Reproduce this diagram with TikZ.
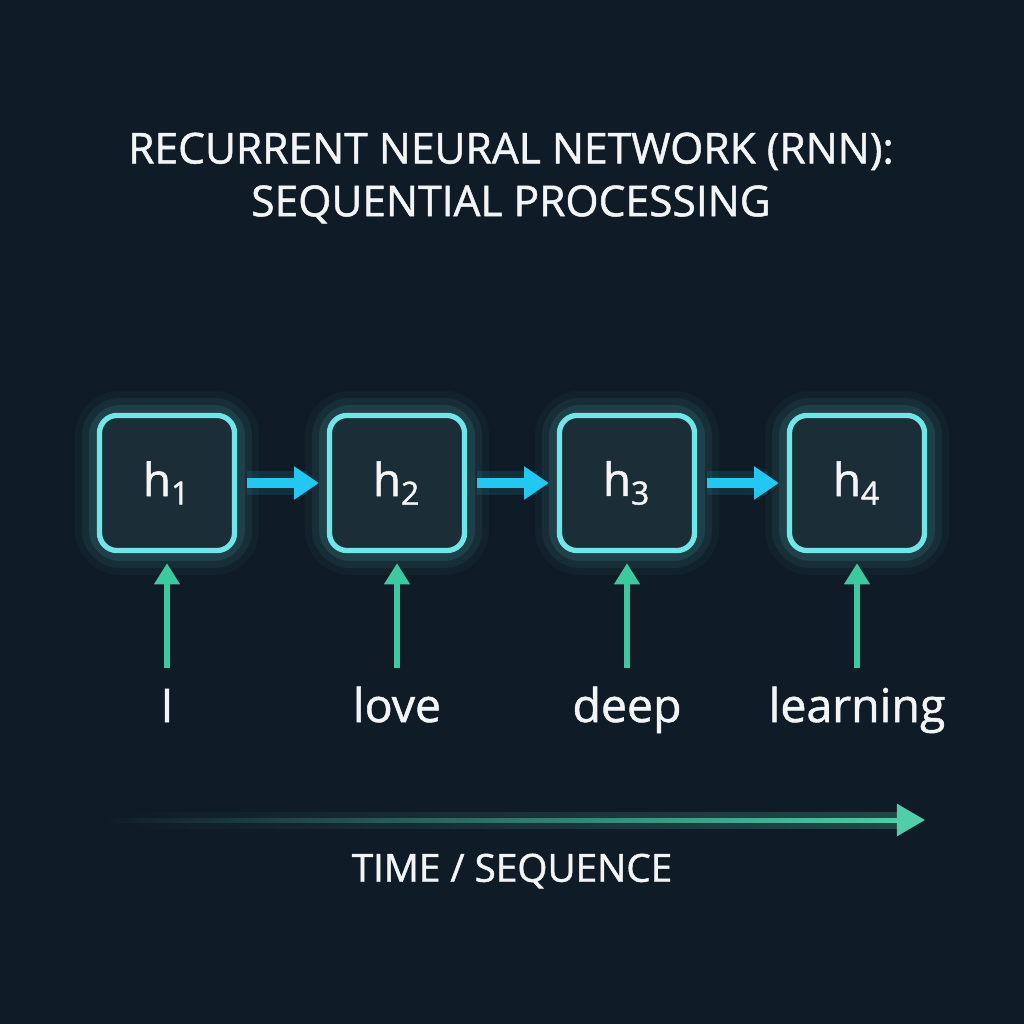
\documentclass[tikz,border=0pt]{standalone}
\usepackage{fontspec}
\setmainfont{Open Sans}[FakeBold=1.2,BoldFont=Open Sans]
\usetikzlibrary{arrows.meta}
\definecolor{bg}{HTML}{0F1B26}
\definecolor{boxfill}{HTML}{1B2D36}
\definecolor{boxedge}{HTML}{6FE6E8}
\definecolor{cyanarr}{HTML}{22C8F2}
\definecolor{greenarr}{HTML}{3CC9A0}
\definecolor{txt}{HTML}{F2F4F5}
\tikzset{
  cell/.style={draw=boxedge, line width=1.5pt, fill=boxfill, rounded corners=5pt,
    minimum width=1.35cm, minimum height=1.35cm, text=txt, font=\bfseries\fontsize{13}{15}\selectfont},
  glow/.style={draw=boxedge, rounded corners=6pt, minimum width=1.35cm, minimum height=1.35cm},
  rarr/.style={draw=cyanarr, line width=3pt, -{Triangle[length=7pt,width=9pt]}},
  uarr/.style={draw=greenarr, line width=1.6pt, -{Triangle[length=6pt,width=7pt]}},
  word/.style={text=txt, font=\bfseries\fontsize{13.2}{15}\selectfont, anchor=base},
  ttl/.style={text=txt, font=\bfseries\fontsize{12.1}{15}\selectfont, align=center}
}
\begin{document}
\begin{tikzpicture}[x=0.01cm,y=-0.01cm]
\fill[bg] (0,0) rectangle (1024,1024);
\useasboundingbox (0,0) rectangle (1024,1024);
\node[ttl] (title) at (511,178) {RECURRENT NEURAL NETWORK (RNN):\\SEQUENTIAL PROCESSING};
\foreach \i/\x in {1/167,2/397,3/627,4/857}{
  \foreach \w/\o in {14/0.04,10/0.06,6/0.1}{
    \node[glow, line width=\w pt, draw opacity=\o] at (\x,483) {};
  }
  \node[cell] (h\i) at (\x,483) {h$_{\mathrm{\i}}$};
}
\foreach \a/\b in {1/2,2/3,3/4}{
  \draw[draw=cyanarr, line width=7pt, opacity=0.12] ([xshift=0.1cm]h\a.east) -- ([xshift=-0.2cm]h\b.west);
  \draw[rarr] ([xshift=0.1cm]h\a.east) -- ([xshift=-0.08cm]h\b.west);
}
\foreach \i/\x/\w in {1/167/I,2/397/love,3/627/deep,4/857/learning}{
  \node[word] (w\i) at (\x,722) {\w};
  \coordinate (s\i) at (\x,668);
  \draw[uarr] (s\i) -- ([yshift=-0.1cm]h\i.south);
}
\coordinate (t0) at (100,820);
\coordinate (t1) at (925,820);
\shade[left color=bg, right color=greenarr!85, opacity=0.25] (100,812) rectangle (905,828);
\shade[left color=bg, right color=greenarr!90] (100,818) rectangle (905,822);
\draw[draw=greenarr!90, line width=1.2pt, -{Triangle[length=8pt,width=9pt]}] (895,820) -- (t1);
\node[ttl, font=\bfseries\fontsize{11}{13}\selectfont] (time) at (512,871) {TIME / SEQUENCE};
\end{tikzpicture}
\end{document}
